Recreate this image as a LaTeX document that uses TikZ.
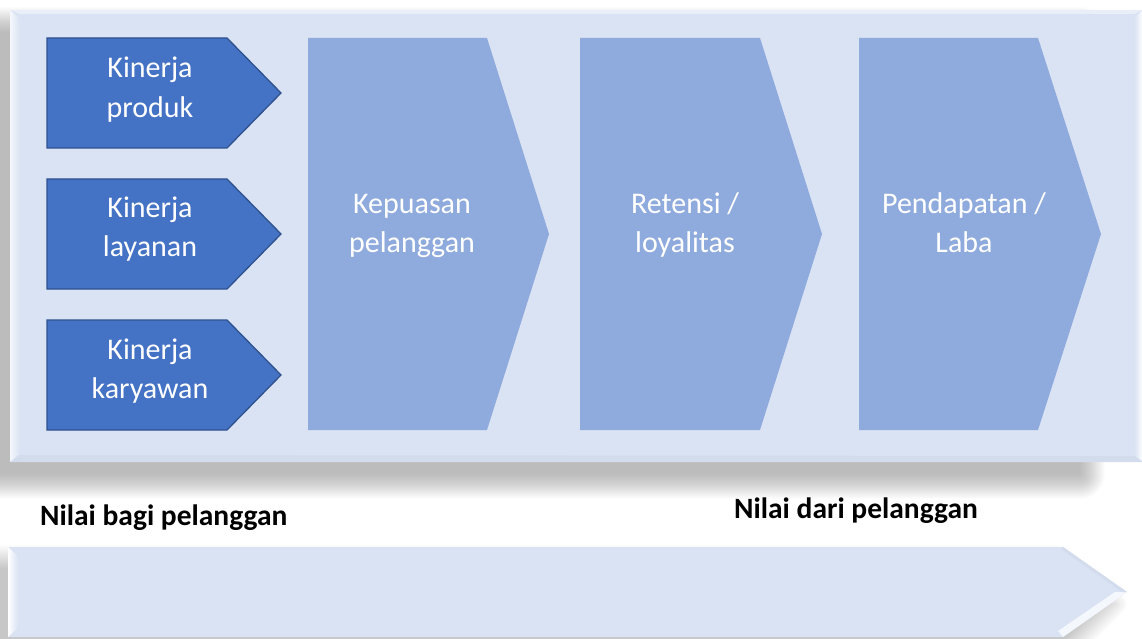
\documentclass[tikz,border=0pt]{standalone}
\usepackage{fontspec}
\setmainfont{Carlito}
\usetikzlibrary{shadows.blur}

\definecolor{panelbg}{HTML}{DAE3F3}
\definecolor{stagefill}{HTML}{8FAADC}
\definecolor{driverfill}{HTML}{4472C4}
\definecolor{driverline}{HTML}{2F528F}

\tikzset{
  driver/.style={fill=driverfill, draw=driverline, line width=1.3pt, line join=miter},
  stage/.style={fill=stagefill, draw=none},
  boxtext/.style={text=white, align=center, inner sep=0pt, anchor=center,
    font=\fontsize{30}{39.5}\selectfont},
  caption/.style={font=\bfseries\fontsize{29.5}{34}\selectfont, anchor=base west, inner sep=0pt},
  bevel/.style={draw=none},
  shadowlayer/.style={fill=black, fill opacity=0.013, draw=none},
}

\begin{document}
\begin{tikzpicture}[x=1pt, y=-1pt]
\useasboundingbox (0,0) rectangle (1142,639);
\clip (0,0) rectangle (1142,639);

% soft shadow of the upper panel, built from stacked translucent layers
\foreach \i in {0,...,25}{
  \fill[shadowlayer, rounded corners=\i pt] (-30-\i,32-\i) rectangle (1080+\i,474+\i);
}
% shadow of the lower arrow band
\path[blur shadow={shadow xshift=0pt, shadow yshift=0pt, shadow blur radius=12pt,
    shadow blur steps=30, shadow opacity=22}]
  (-20,556) -- (1060,556) -- (1116,604) -- (1060,660) -- (-20,660) -- cycle;

% upper panel with bevelled edges
\fill[panelbg] (10,10) rectangle (1143,462);
\shade[bevel, left color=white!70!panelbg, right color=panelbg]
  (10,10) -- (20,19) -- (20,453) -- (10,462) -- cycle;
\shade[bevel, left color=panelbg, right color=white]
  (1143,10) -- (1134,18) -- (1134,455) -- (1143,462) -- cycle;
\fill[bevel, panelbg!97!black] (10,462) -- (20,455) -- (1134,456) -- (1143,462) -- cycle;
\fill[bevel, white!40!panelbg] (10,10) -- (1143,10) -- (1134,14) -- (20,14) -- cycle;

% value drivers
\draw[driver] (47,38) -- (227,38) -- (281,93) -- (227,148) -- (47,148) -- cycle;
\draw[driver] (47,179) -- (227,179) -- (281,234) -- (227,289) -- (47,289) -- cycle;
\draw[driver] (47,320) -- (227,320) -- (281,375) -- (227,430) -- (47,430) -- cycle;

% value chain stages
\fill[stage] (308,38) -- (487,38) -- (549,234) -- (487,430) -- (308,430) -- cycle;
\fill[stage] (580,38) -- (760,38) -- (822,234) -- (760,430) -- (580,430) -- cycle;
\fill[stage] (859,38) -- (1038,38) -- (1101,234) -- (1038,430) -- (859,430) -- cycle;

\node[boxtext] (produk)   at (150,89.85)  {\strut Kinerja\\\strut produk};
\node[boxtext] (layanan)  at (150,228.85) {\strut Kinerja\\\strut layanan};
\node[boxtext] (karyawan) at (150,370.85) {\strut Kinerja\\\strut karyawan};

\node[boxtext] (kepuasan)   at (412,225) {\strut Kepuasan\\\strut pelanggan};
\node[boxtext] (retensi)    at (685,225) {\strut Retensi /\\\strut loyalitas};
\node[boxtext] (pendapatan) at (964,225) {\strut Pendapatan /\\\strut Laba};

% captions
\node[caption] (bagi) at (40,525) {Nilai bagi pelanggan};
\node[caption] (dari) at (734,518) {Nilai dari pelanggan};

% lower arrow band
\fill[panelbg] (8,547) -- (1063,547) -- (1127,592) -- (1063,637) -- (8,637) -- cycle;
\shade[bevel, left color=white, right color=panelbg]
  (8,547) -- (18,556) -- (18,628) -- (8,637) -- cycle;
\fill[bevel, white!70!panelbg] (1127,592) -- (1115,592) -- (1058,631) -- (1063,637) -- cycle;
\fill[bevel, panelbg!97!black] (1063,547) -- (1127,592) -- (1122,592) -- (1061,549) -- cycle;
\end{tikzpicture}
\end{document}
